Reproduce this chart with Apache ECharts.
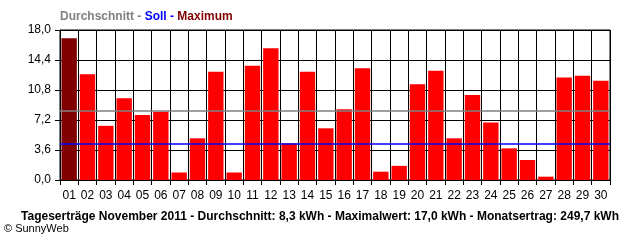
<!DOCTYPE html>
<html>
<head>
<meta charset="utf-8">
<script src="https://cdn.jsdelivr.net/npm/echarts@6/dist/echarts.min.js"></script>
<style>html,body{margin:0;padding:0;background:#fff}#c{width:640px;height:240px}</style>
</head>
<body>
<div id="c"></div>
<script>
const days = ['01','02','03','04','05','06','07','08','09','10','11','12','13','14','15','16','17','18','19','20','21','22','23','24','25','26','27','28','29','30'];
const dailyYield = [17.0,12.7,6.5,9.8,7.8,8.2,0.9,5.0,13.0,0.9,13.7,15.8,4.4,13.0,6.2,8.5,13.4,1.0,1.7,11.5,13.1,5.0,10.2,6.9,3.8,2.4,0.4,12.3,12.5,11.9];
const averageValue = 8.3;
const targetValue = 4.3;
const yTicks = [0, 3.6, 7.2, 10.8, 14.4, 18.0];
const titleBottom = 'Tageserträge November 2011 - Durchschnitt: 8,3 kWh - Maximalwert: 17,0 kWh - Monatsertrag: 249,7 kWh';
const copyright = '© SunnyWeb';

const maxVal = Math.max(...dailyYield);
const barData = dailyYield.map(v => v === maxVal ? {value: v, itemStyle: {color: '#800000'}} : v);

const chart = echarts.init(document.getElementById('c'), null, {renderer: 'canvas'});
chart.setOption({
  animation: false,
  backgroundColor: '#ffffff',
  textStyle: {fontFamily: 'Liberation Sans'},
  title: [
    {
      left: 60, top: 11, padding: 0,
      text: '{g|Durchschnitt - }{b|Soll - }{r|Maximum}',
      textStyle: {
        rich: {
          g: {color: '#808080', fontWeight: 'bold', fontSize: 12, fontFamily: 'Liberation Sans'},
          b: {color: '#0000ff', fontWeight: 'bold', fontSize: 12, fontFamily: 'Liberation Sans'},
          r: {color: '#800000', fontWeight: 'bold', fontSize: 12, fontFamily: 'Liberation Sans'}
        }
      }
    },
    {
      left: 'center', top: 211, padding: 0,
      text: titleBottom,
      textStyle: {color: '#000', fontWeight: 'bold', fontSize: 12, fontFamily: 'Liberation Sans'}
    },
    {
      left: 4, top: 223, padding: 0,
      text: copyright,
      textStyle: {color: '#000', fontWeight: 'normal', fontSize: 11, fontFamily: 'Liberation Sans'}
    }
  ],
  grid: {left: 60, right: 30, top: 30, bottom: 60, show: true, borderColor: '#000', borderWidth: 1, backgroundColor: 'transparent'},
  xAxis: {
    type: 'category',
    data: days,
    boundaryGap: true,
    axisLine: {lineStyle: {color: '#000', width: 1}},
    axisTick: {show: true, length: 5, lineStyle: {color: '#000'}},
    axisLabel: {color: '#000', fontSize: 12, margin: 10, interval: 0, fontFamily: 'Liberation Sans'},
    splitLine: {show: true, interval: 0, lineStyle: {color: '#000', width: 1}}
  },
  yAxis: {
    type: 'value',
    min: yTicks[0], max: yTicks[yTicks.length - 1], interval: yTicks[1] - yTicks[0],
    axisLine: {show: true, lineStyle: {color: '#000', width: 1}},
    axisTick: {show: true, length: 5, lineStyle: {color: '#000'}},
    axisLabel: {color: '#000', fontSize: 12, margin: 9, fontFamily: 'Liberation Sans',
      formatter: v => v.toFixed(1).replace('.', ',')},
    splitLine: {show: true, lineStyle: {color: '#000', width: 1}}
  },
  series: [{
    type: 'bar',
    data: barData,
    barCategoryGap: '16%',
    itemStyle: {color: '#ff0000'},
    markLine: {
      silent: true,
      symbol: ['none', 'none'],
      label: {show: false},
      animation: false,
      data: [
        {yAxis: averageValue, lineStyle: {color: '#808080', width: 1.5, type: 'solid'}},
        {yAxis: targetValue, lineStyle: {color: '#0000ff', width: 1.5, type: 'solid'}}
      ]
    }
  }]
});
</script>
</body>
</html>
